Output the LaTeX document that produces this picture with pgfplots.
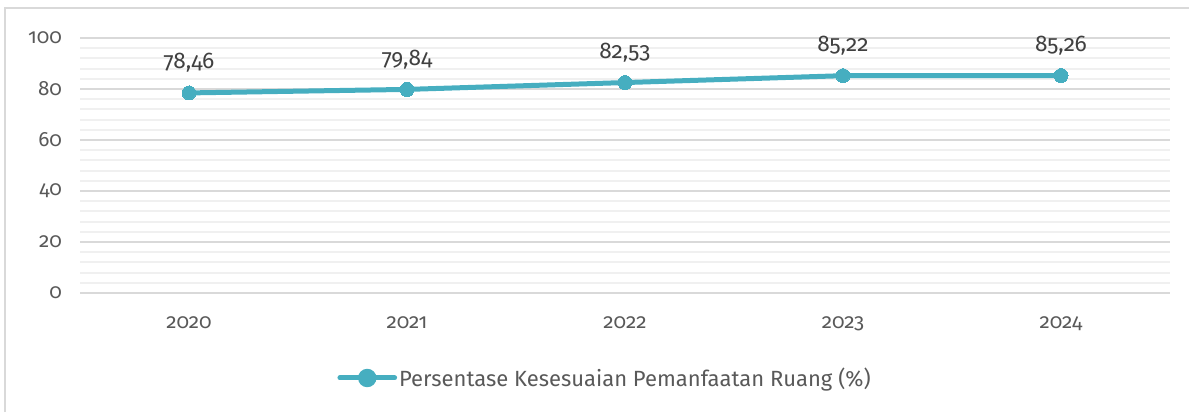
\documentclass[border=0pt]{standalone}
\usepackage{fontspec}
\setmainfont{Fira Sans}[Numbers=OldStyle]
\usepackage{pgfplots}
\pgfplotsset{compat=1.18}
\definecolor{teal1}{RGB}{70,174,192}
\definecolor{txt}{RGB}{89,89,89}
\definecolor{lbl}{RGB}{64,64,64}
\begin{document}
\begin{tikzpicture}
\useasboundingbox (-60pt,-89.25pt) rectangle (831.75pt,219.75pt);
\draw[black!15, line width=1.5pt] (-55.9pt,-89.25pt) -- (-55.9pt,213.4pt) -- (831.75pt,213.4pt);
\begin{axis}[at={(0,0)}, anchor=south west, scale only axis,
  width=817.5pt, height=191.25pt,
  xmin=-0.5, xmax=4.5, ymin=0, ymax=100,
  xtick={0,1,2,3,4}, xticklabels={2020,2021,2022,2023,2024},
  ytick={0,20,40,60,80,100}, minor y tick num=4,
  ymajorgrids, yminorgrids,
  major grid style={draw=black!15, line width=1.5pt},
  minor grid style={draw=black!6, line width=1.5pt},
  axis line style={draw=none}, major tick style={draw=none}, minor tick style={draw=none},
  /pgf/number format/assume math mode=true,
  ticklabel style={font=\fontsize{15.5}{18}\selectfont, text=txt},
  yticklabel style={xshift=-10pt},
  xticklabel style={yshift=-14pt},
  clip=false,
  legend style={at={(0.4817,-0.3333)}, anchor=center, draw=none, fill=none,
    font=\fontsize{16.5}{19}\selectfont, text=txt,
    /tikz/every even column/.append style={column sep=0pt},
    nodes={inner xsep=1.5pt}},
  legend image code/.code={%
    \draw[teal1, line width=3.75pt, line cap=round] (0pt,0pt) -- (41pt,0pt);
    \fill[teal1] (20.5pt,0pt) circle (5pt);},
  nodes near coords,
  point meta=y,
  nodes near coords style={font=\fontsize{17}{20}\selectfont, text=lbl, anchor=center, yshift=22.5pt,
    /pgf/number format/.cd, fixed, fixed zerofill, precision=2, use comma, assume math mode=true},
]
\addplot[teal1, line width=3.75pt, mark=*, mark size=5.25pt, mark options={fill=teal1, draw=teal1, line width=0pt}]
  coordinates {(0,78.46) (1,79.84) (2,82.53) (3,85.22) (4,85.26)};
\addlegendentry{Persentase Kesesuaian Pemanfaatan Ruang (\%)}
\end{axis}
\end{tikzpicture}
\end{document}
